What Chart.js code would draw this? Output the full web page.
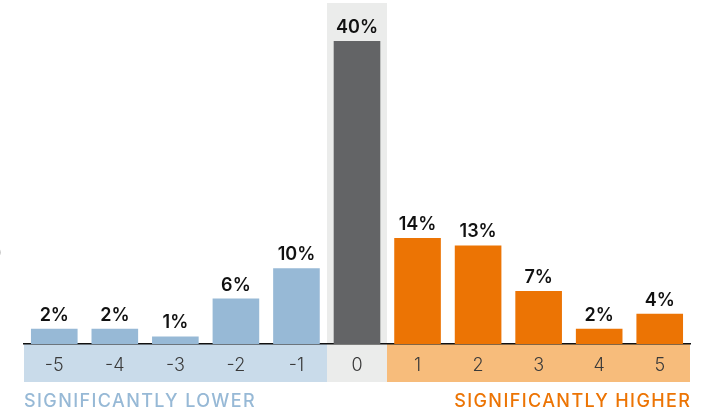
<!DOCTYPE html>
<html>
<head>
<meta charset="utf-8">
<script src="https://cdn.jsdelivr.net/npm/chart.js@4"></script>
<style>
  html, body { margin: 0; padding: 0; background: #fff; }
  #wrap { width: 705px; height: 412px; position: relative; }
</style>
</head>
<body>
<div id="wrap"><canvas id="chart"></canvas></div>
<script>
const FONT = "Inter"

const BLUE = "#97b9d6"
const BLUE_BAND = "#c9dbea"
const GRAY = "#636466"
const GRAY_BAND = "#ebeceb"
const ORANGE = "#ec7404"
const ORANGE_BAND = "#f7bc7b"

// rating scale, share of answers in percent
const categories = ["-5", "-4", "-3", "-2", "-1", "0", "1", "2", "3", "4", "5"]
const shares = [2, 2, 1, 6, 10, 40, 14, 13, 7, 2, 4]
const lowerLabel = "SIGNIFICANTLY LOWER"
const higherLabel = "SIGNIFICANTLY HIGHER"

const side = (cat) => Math.sign(parseInt(cat))
const barColor = (cat) => [BLUE, GRAY, ORANGE][side(cat) + 1]
const bandColor = (cat) => [BLUE_BAND, GRAY_BAND, ORANGE_BAND][side(cat) + 1]

// coloured strip behind the tick labels, plus the full-height column for 0
const bands = {
  id: "bands",
  beforeDraw: (chart) => {
    const { ctx, chartArea } = chart
    const x = chart.scales.x
    const half = (x.getPixelForValue(1) - x.getPixelForValue(0)) / 2
    const bandBottom = chartArea.bottom + 38

    ctx.save()
    categories.forEach((cat, i) => {
      const cx = x.getPixelForValue(i)
      const left = Math.round(cx - half)
      const right = Math.round(cx + half)
      const top = side(cat) === 0 ? chartArea.top : chartArea.bottom
      ctx.fillStyle = bandColor(cat)
      ctx.fillRect(left, top, right - left, bandBottom - top)
    })
    ctx.restore()
  },
}

// percentage above each bar and the two side captions
const labels = {
  id: "labels",
  afterDatasetsDraw: (chart) => {
    const { ctx, chartArea } = chart
    const meta = chart.getDatasetMeta(0)

    ctx.save()
    ctx.font = `600 18px ${FONT}`
    ctx.fillStyle = "#111"
    ctx.textAlign = "center"
    ctx.textBaseline = "alphabetic"
    meta.data.forEach((bar, i) => {
      ctx.fillText(`${shares[i]}%`, bar.x, bar.y - 8)
    })

    ctx.font = `500 18px ${FONT}`
    ctx.letterSpacing = "1.4px"
    ctx.textAlign = "left"
    ctx.fillStyle = BLUE
    ctx.fillText(lowerLabel, chartArea.left, 407)
    ctx.textAlign = "right"
    ctx.fillStyle = ORANGE
    ctx.fillText(higherLabel, chartArea.right + 1.4, 407)

    // edge of the axis caption that runs off the left side
    ctx.letterSpacing = "0px"
    ctx.font = `300 18px ${FONT}`
    ctx.fillStyle = "#555"
    ctx.textAlign = "left"
    ctx.fillText(")", -4, 258)
    ctx.restore()
  },
}

new Chart(document.getElementById("chart"), {
  type: "bar",
  data: {
    labels: categories,
    datasets: [
      {
        data: shares,
        backgroundColor: categories.map(barColor),
        barPercentage: 0.77,
        categoryPercentage: 1.0,
      },
    ],
  },
  options: {
    animation: false,
    responsive: true,
    maintainAspectRatio: false,
    layout: {
      padding: { left: 24, right: 15, top: 3, bottom: 0 },
    },
    plugins: {
      legend: { display: false },
      tooltip: { enabled: false },
    },
    scales: {
      x: {
        z: 1,
        grid: { display: false, drawTicks: false },
        border: { display: true, color: "#111", width: 1.5 },
        ticks: {
          padding: 11,
          color: "#3a3a3a",
          font: { family: FONT, size: 18, weight: "300" },
          maxRotation: 0,
        },
        afterFit: (scale) => {
          scale.height = 68
        },
      },
      y: {
        display: false,
        min: 0,
        max: 45,
      },
    },
  },
  plugins: [bands, labels],
})
</script>
</body>
</html>
